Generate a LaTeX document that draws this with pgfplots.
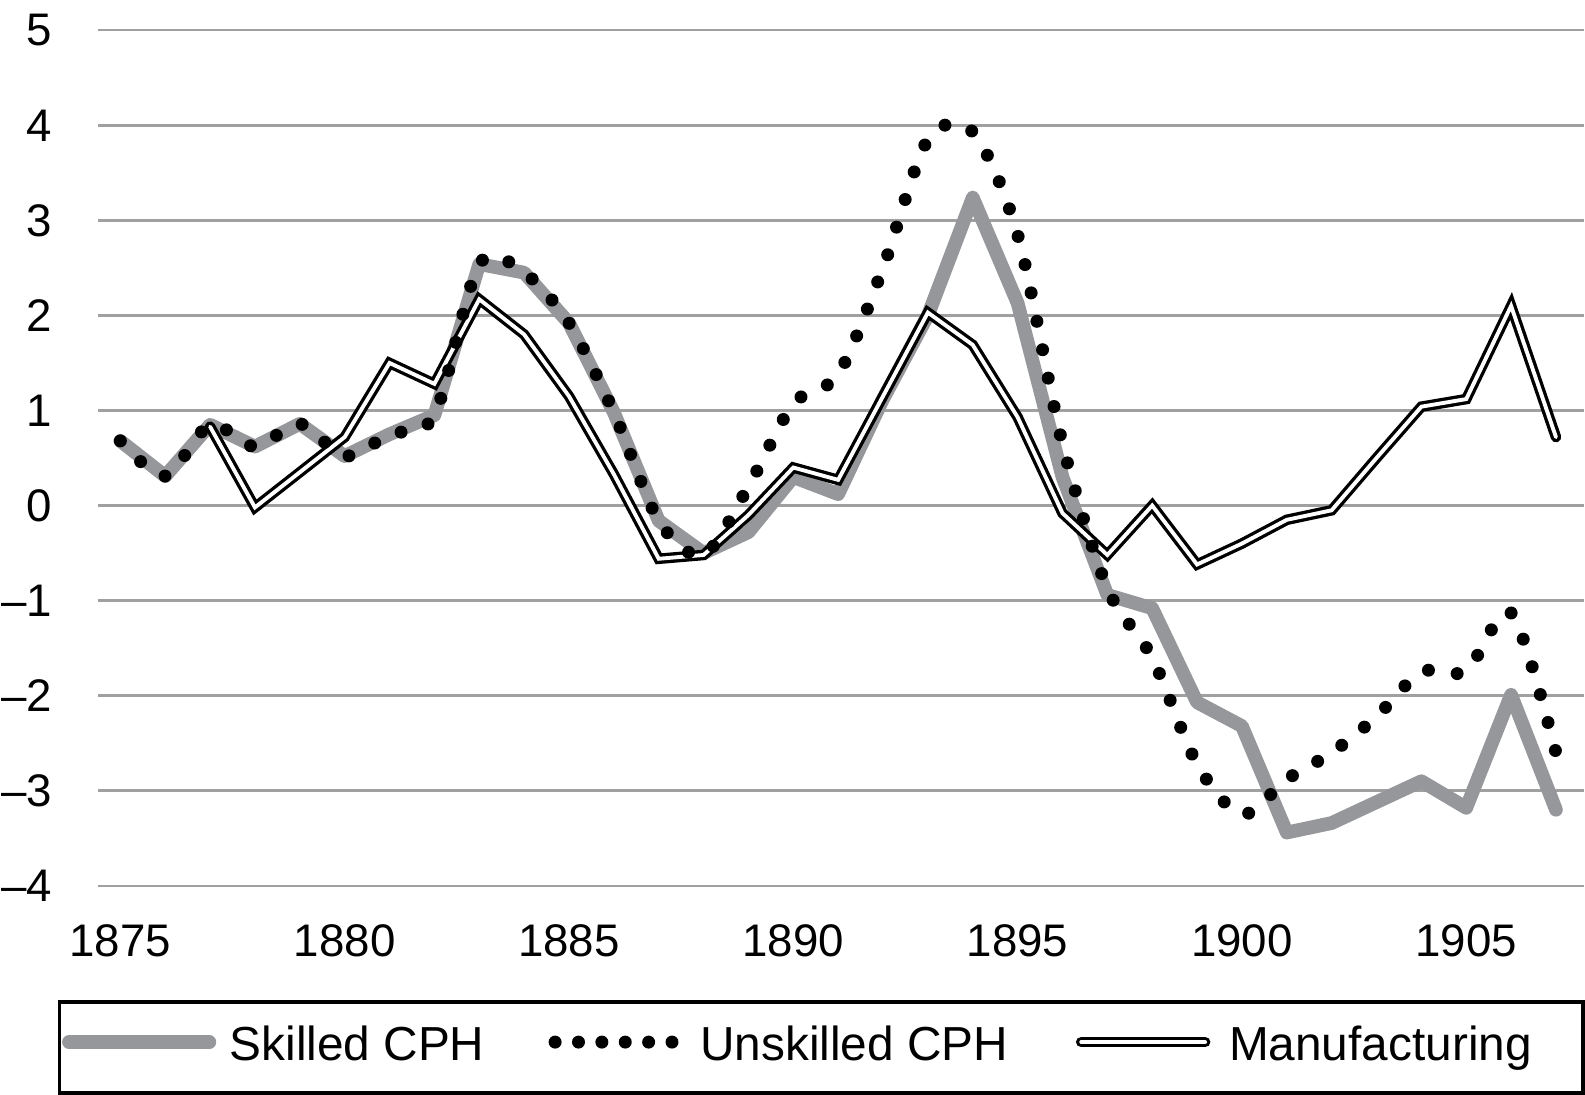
\documentclass[border=0pt]{standalone}
\usepackage{fontspec}
\setmainfont{Liberation Sans}
\usepackage{pgfplots}
\pgfplotsset{compat=1.18}
\definecolor{skgray}{RGB}{150,151,154}
\definecolor{gridgray}{RGB}{160,160,160}
\begin{document}
\begin{tikzpicture}
\begin{axis}[
  name=ax,
  scale only axis,
  width=148.7mm, height=85.62mm,
  xmin=1874.5, xmax=1907.62,
  ymin=-4, ymax=5,
  xtick={1875,1880,1885,1890,1895,1900,1905},
  xticklabels={1875,1880,1885,1890,1895,1900,1905},
  ytick={-4,-3,-2,-1,0,1,2,3,4,5},
  yticklabels={\textendash4,\textendash3,\textendash2,\textendash1,0,1,2,3,4,5},
  ymajorgrids,
  grid style={gridgray, line width=0.7pt},
  axis line style={draw=none},
  major tick length=0pt,
  tick label style={font=\fontsize{13}{15}\selectfont, inner sep=0pt},
  xticklabel shift=3.85mm,
  yticklabel shift=4.54mm,
  clip=false,
  legend columns=3,
  legend style={at={(0,0)}, anchor=north west, xshift=-4.04mm, yshift=-11.45mm,
    draw=black, line width=1.1pt, inner xsep=0pt, inner ysep=2.25mm,
    font=\fontsize{13.6}{16}\selectfont,
    nodes={inner sep=0pt, text height=3.6mm, text depth=1.0mm},
    cells={anchor=center}},
]
\addlegendimage{legend image code/.code={\path[draw=none] (0,0) -- (17.04mm,0);
  \draw[skgray, line width=3.9pt, line cap=round] (0.95mm,0.55mm) -- (15.0mm,0.55mm);}}
\addlegendentry{Skilled CPH}
\addlegendimage{legend image code/.code={\path[draw=none] (0,0) -- (21.6mm,0);
  \draw[black, line width=3.7pt, line cap=round, dash pattern=on 0pt off 2.34mm] (7.06mm,0.55mm) -- (18.8mm,0.55mm);}}
\addlegendentry{Unskilled CPH}
\addlegendimage{legend image code/.code={\path[draw=none] (0,0) -- (22.1mm,0);
  \draw[black, line width=0.95pt, double=white, double distance=1.1pt, line cap=round] (7.3mm,0.55mm) -- (19.7mm,0.55mm);}}
\addlegendentry{Manufacturing\rule{5.1mm}{0pt}}

% Skilled CPH
\addplot[forget plot, skgray, line width=3.9pt, line cap=round, line join=round] coordinates {
(1875,0.68)(1876,0.31)(1877,0.85)(1878,0.62)(1879,0.86)(1880,0.52)(1881,0.75)(1882,0.95)
(1883,2.54)(1884,2.45)(1885,1.92)(1886,0.98)(1887,-0.16)(1888,-0.5)(1889,-0.28)(1890,0.3)
(1891,0.12)(1892,1.12)(1893,2.0)(1894,3.24)(1895,2.13)(1896,0.3)(1897,-0.94)(1898,-1.08)
(1899,-2.07)(1900,-2.32)(1901,-3.44)(1902,-3.34)(1903,-3.12)(1904,-2.9)(1905,-3.18)(1906,-1.99)(1907,-3.2)};

% Manufacturing
\addplot[forget plot, black, line width=0.95pt, double=white, double distance=1.1pt, line cap=round] coordinates {
(1877,0.83)(1878,-0.02)(1879,0.35)(1880,0.72)(1881,1.5)(1882,1.28)(1883,2.17)(1884,1.8)
(1885,1.15)(1886,0.33)(1887,-0.56)(1888,-0.52)(1889,-0.1)(1890,0.4)(1891,0.27)(1892,1.15)
(1893,2.03)(1894,1.69)(1895,0.93)(1896,-0.08)(1897,-0.52)(1898,0.0)(1899,-0.62)(1900,-0.4)
(1901,-0.15)(1902,-0.05)(1903,0.5)(1904,1.04)(1905,1.12)(1906,2.1)(1907,0.72)};

% Unskilled CPH
\addplot[forget plot, black, line width=3.7pt, line cap=round, smooth, tension=0.5, dash pattern=on 0pt off 2.9mm] coordinates {
(1875,0.68)(1876,0.31)(1877,0.85)(1878,0.62)(1879,0.86)(1880,0.52)(1881,0.75)(1882,0.95)
(1883,2.54)(1884,2.45)(1885,1.92)(1886,0.98)(1887,-0.16)(1888,-0.52)(1889,0.2)(1890,1.07)
(1891,1.38)(1892,2.5)(1893,3.85)(1894,3.93)(1895,2.85)(1896,0.65)(1897,-0.87)(1898,-1.6)
(1899,-2.72)(1900,-3.25)(1901,-2.88)(1902,-2.6)(1903,-2.22)(1904,-1.75)(1905,-1.74)(1906,-1.13)(1907,-2.6)};
\end{axis}
\path ([xshift=-9.8mm,yshift=-20.75mm]ax.south west) rectangle ([yshift=3.03mm]ax.north east);
\end{tikzpicture}
\end{document}
